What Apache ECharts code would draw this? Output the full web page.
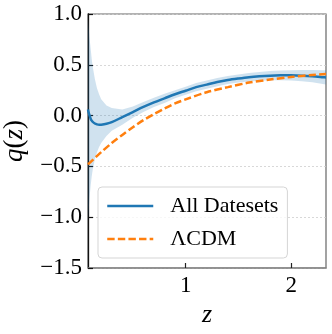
<!DOCTYPE html>
<html>
<head>
<meta charset="utf-8">
<script src="https://cdn.jsdelivr.net/npm/echarts@6/dist/echarts.min.js"></script>
<style>
  html, body { margin: 0; padding: 0; background: #fff; }
  #chart { width: 332px; height: 334px; }
</style>
</head>
<body>
<div id="chart"></div>
<script>
// redshift grid of the reconstruction
const zGrid = [0.075, 0.08, 0.09, 0.10, 0.11, 0.12, 0.14, 0.16, 0.18, 0.20, 0.25, 0.30,
  0.40, 0.50, 0.60, 0.70, 0.80, 0.90, 1.00, 1.10, 1.20, 1.30, 1.40, 1.50, 1.60, 1.70,
  1.80, 1.90, 2.00, 2.10, 2.20, 2.30, 2.33]
const qAll = [0.06, 0.035, 0.0, -0.03, -0.05, -0.062, -0.078, -0.086, -0.09, -0.089, -0.08, -0.065,
  -0.015, 0.035, 0.085, 0.13, 0.17, 0.21, 0.245, 0.28, 0.305, 0.33, 0.35, 0.365, 0.378, 0.387,
  0.393, 0.396, 0.396, 0.393, 0.387, 0.378, 0.375]
const qUpper = [0.95, 0.88, 0.76, 0.66, 0.56, 0.48, 0.36, 0.27, 0.21, 0.16, 0.10, 0.075,
  0.06, 0.09, 0.135, 0.175, 0.215, 0.25, 0.285, 0.32, 0.345, 0.37, 0.39, 0.405, 0.42, 0.43,
  0.438, 0.443, 0.447, 0.448, 0.448, 0.447, 0.447]
const qLower = [-1.02, -0.95, -0.80, -0.69, -0.60, -0.53, -0.43, -0.36, -0.31, -0.27, -0.20, -0.15,
  -0.09, -0.02, 0.035, 0.085, 0.125, 0.17, 0.205, 0.24, 0.265, 0.29, 0.31, 0.325, 0.336, 0.344,
  0.348, 0.349, 0.345, 0.338, 0.328, 0.31, 0.305]

// LCDM curve
const zLcdm = [0.075, 0.2, 0.3, 0.4, 0.5, 0.6, 0.7, 0.8, 0.9, 1.0, 1.2, 1.4, 1.6, 1.8, 2.0, 2.2, 2.33]
const qLcdm = [-0.48, -0.36, -0.27, -0.19, -0.115, -0.045, 0.015, 0.07, 0.12, 0.16, 0.23, 0.28,
  0.325, 0.355, 0.38, 0.40, 0.41]

const xTicks = [1, 2]
const legendNames = ['All Datesets', '\u039BCDM']

const font = 'Liberation Serif'
const chart = echarts.init(document.getElementById('chart'))

const fmt = (v) => v.toFixed(1).replace('-', '\u2212')

chart.setOption({
  animation: false,
  grid: {
    left: 88, right: 6, top: 14, bottom: 66,
    outerBoundsMode: 'none',
    containLabel: false,
    show: true, borderColor: '#666', borderWidth: 1.2
  },
  legend: {
    data: legendNames,
    orient: 'vertical',
    left: 98, top: 187,
    padding: [8, 9, 8, 8],
    itemWidth: 46, itemHeight: 14, itemGap: 11,
    backgroundColor: 'rgba(255,255,255,0.8)',
    borderColor: '#d5d5d5', borderWidth: 1, borderRadius: 4,
    itemStyle: { color: 'rgba(0,0,0,0)', borderWidth: 0 },
    lineStyle: { width: 2.5 },
    textStyle: { fontFamily: font, fontSize: 22, color: '#000', padding: [0, 0, 0, 12], lineHeight: 22 }
  },
  xAxis: {
    type: 'value',
    min: 0.075, max: 2.33,
    name: 'z',
    nameLocation: 'middle',
    nameGap: 29,
    nameTextStyle: { fontFamily: font, fontSize: 26, fontStyle: 'italic', color: '#000' },
    axisLine: { onZero: false, lineStyle: { color: '#888', width: 1.5 } },
    axisTick: { show: true, inside: true, length: 5, customValues: xTicks, lineStyle: { color: '#222', width: 1.2 } },
    axisLabel: { customValues: xTicks, fontFamily: font, fontSize: 23, color: '#000', margin: 6 },
    splitLine: { show: false }
  },
  yAxis: {
    type: 'value',
    min: -1.5, max: 1.0, interval: 0.5,
    name: '{i|q}{n|(}{i|z}{n|)}',
    nameLocation: 'middle',
    nameRotate: 90,
    nameGap: 60,
    nameTextStyle: {
      rich: {
        i: { fontFamily: font, fontSize: 27, fontStyle: 'italic', color: '#000' },
        n: { fontFamily: font, fontSize: 27, color: '#000' }
      }
    },
    axisLine: { onZero: false, lineStyle: { color: '#111', width: 1.3 } },
    axisTick: { inside: true, length: 5, lineStyle: { color: '#111', width: 1.2 } },
    axisLabel: { formatter: fmt, fontFamily: font, fontSize: 23, color: '#000', margin: 6 },
    splitLine: {
      show: true,
      lineStyle: { color: '#cfcfcf', width: 0.8, type: [2, 2] }
    }
  },
  series: [
    {
      type: 'custom',
      name: 'band',
      clip: true,
      silent: true,
      z: 1,
      data: [[0]],
      renderItem: (params, api) => {
        const pts = []
        for (let i = 0; i < zGrid.length; i++) pts.push(api.coord([zGrid[i], qUpper[i]]))
        for (let i = zGrid.length - 1; i >= 0; i--) pts.push(api.coord([zGrid[i], qLower[i]]))
        return {
          type: 'polygon',
          shape: { points: pts },
          style: { fill: 'rgba(31,119,180,0.21)', stroke: 'none' }
        }
      }
    },
    {
      type: 'line',
      name: legendNames[0],
      data: zGrid.map((z, i) => [z, qAll[i]]),
      showSymbol: false,
      symbol: 'none',
      smooth: 0.3,
      z: 3,
      lineStyle: { color: '#1f77b4', width: 2.5 },
      itemStyle: { color: '#1f77b4' }
    },
    {
      type: 'line',
      name: legendNames[1],
      data: zLcdm.map((z, i) => [z, qLcdm[i]]),
      showSymbol: false,
      symbol: 'none',
      smooth: 0.3,
      z: 4,
      lineStyle: { color: '#ff7f0e', width: 2.5, type: [7.4, 3.2] },
      itemStyle: { color: '#ff7f0e' }
    }
  ]
})
</script>
</body>
</html>
